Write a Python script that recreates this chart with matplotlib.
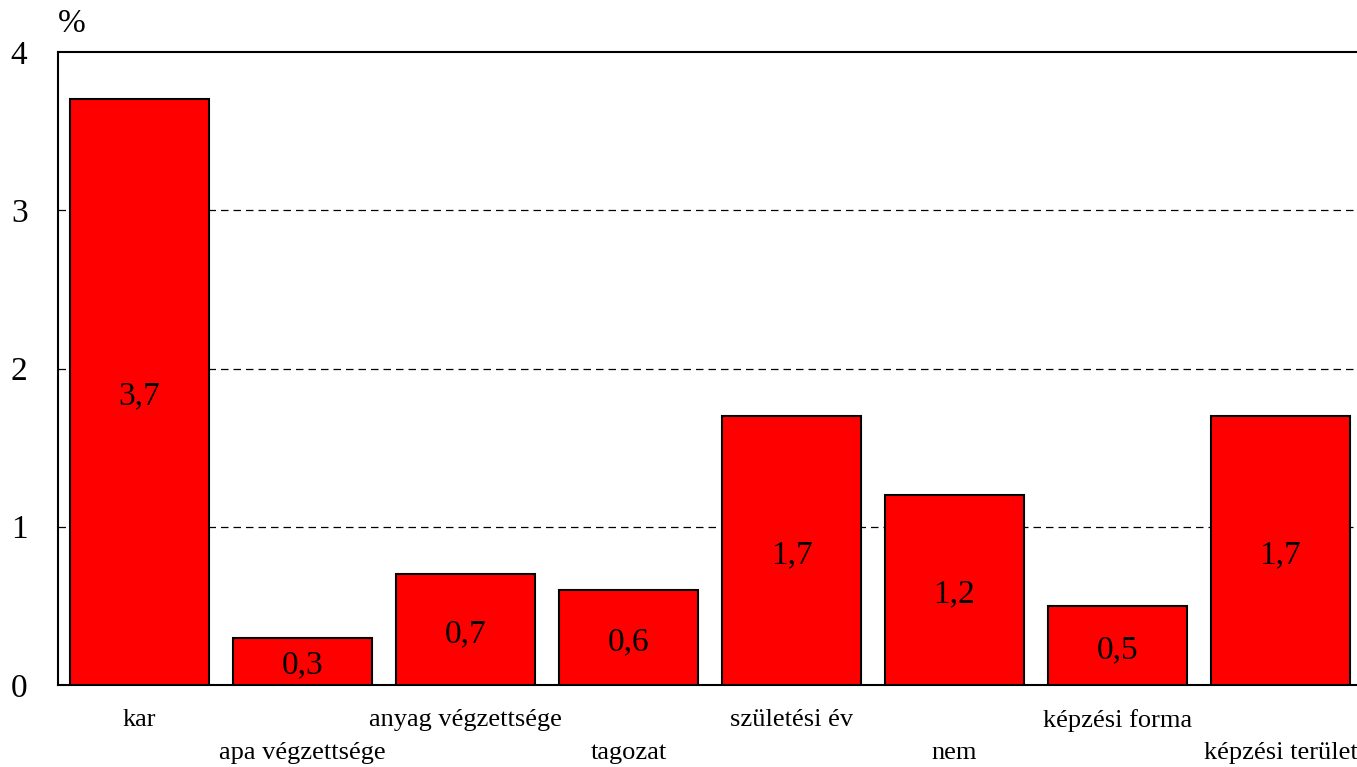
import matplotlib
matplotlib.use("Agg")
import matplotlib.pyplot as plt
import numpy as np

categories = ["kar", "apa végzettsége", "anyag végzettsége", "tagozat",
              "születési év", "nem", "képzési forma", "képzési terület"]
values = [3.7, 0.3, 0.7, 0.6, 1.7, 1.2, 0.5, 1.7]
yticks = [0, 1, 2, 3, 4]

plt.rcParams['font.family'] = ['Liberation Serif', 'DejaVu Serif']

W, H = 1357, 767
fig = plt.figure(figsize=(W / 100, H / 100), dpi=100)
ax = fig.add_axes([58 / W, (H - 685) / H, (1362 - 58) / W, (685 - 52) / H])

x = np.arange(len(categories))
bars = ax.bar(x, values, width=0.853, color='#ff0000', edgecolor='black',
              linewidth=1.5, zorder=3)

# value labels in the middle of each bar
for xi, v in zip(x, values):
    ax.annotate(('%.1f' % v).replace('.', ','), (xi, v / 2), xytext=(0, -3),
                textcoords='offset points', ha='center', va='center',
                fontsize=24, zorder=4)

ax.set_xlim(-0.5, 7.5)
ax.set_ylim(0, 4)
ax.set_yticks(yticks)
ax.set_yticklabels([str(t) for t in yticks], fontsize=24)
ax.tick_params(axis='y', length=0, pad=22)
ax.set_xticks([])

for t in [1, 2, 3]:
    ax.axhline(t, color='black', linestyle=(0, (6, 4)), linewidth=0.9, zorder=1)

for sp in ['left', 'top', 'bottom']:
    ax.spines[sp].set_linewidth(1.5)
ax.spines['right'].set_visible(False)

# alternating category labels
for i, (xi, lab) in enumerate(zip(x, categories)):
    yoff = -0.056 if i % 2 == 0 else -0.107
    ax.text(xi, yoff, lab, transform=ax.get_xaxis_transform(), ha='center',
            va='center', fontsize=19)

fig.text(72 / W, 1 - 24 / H, '%', ha='center', va='center', fontsize=24)

fig.savefig('out.png', dpi=100)
